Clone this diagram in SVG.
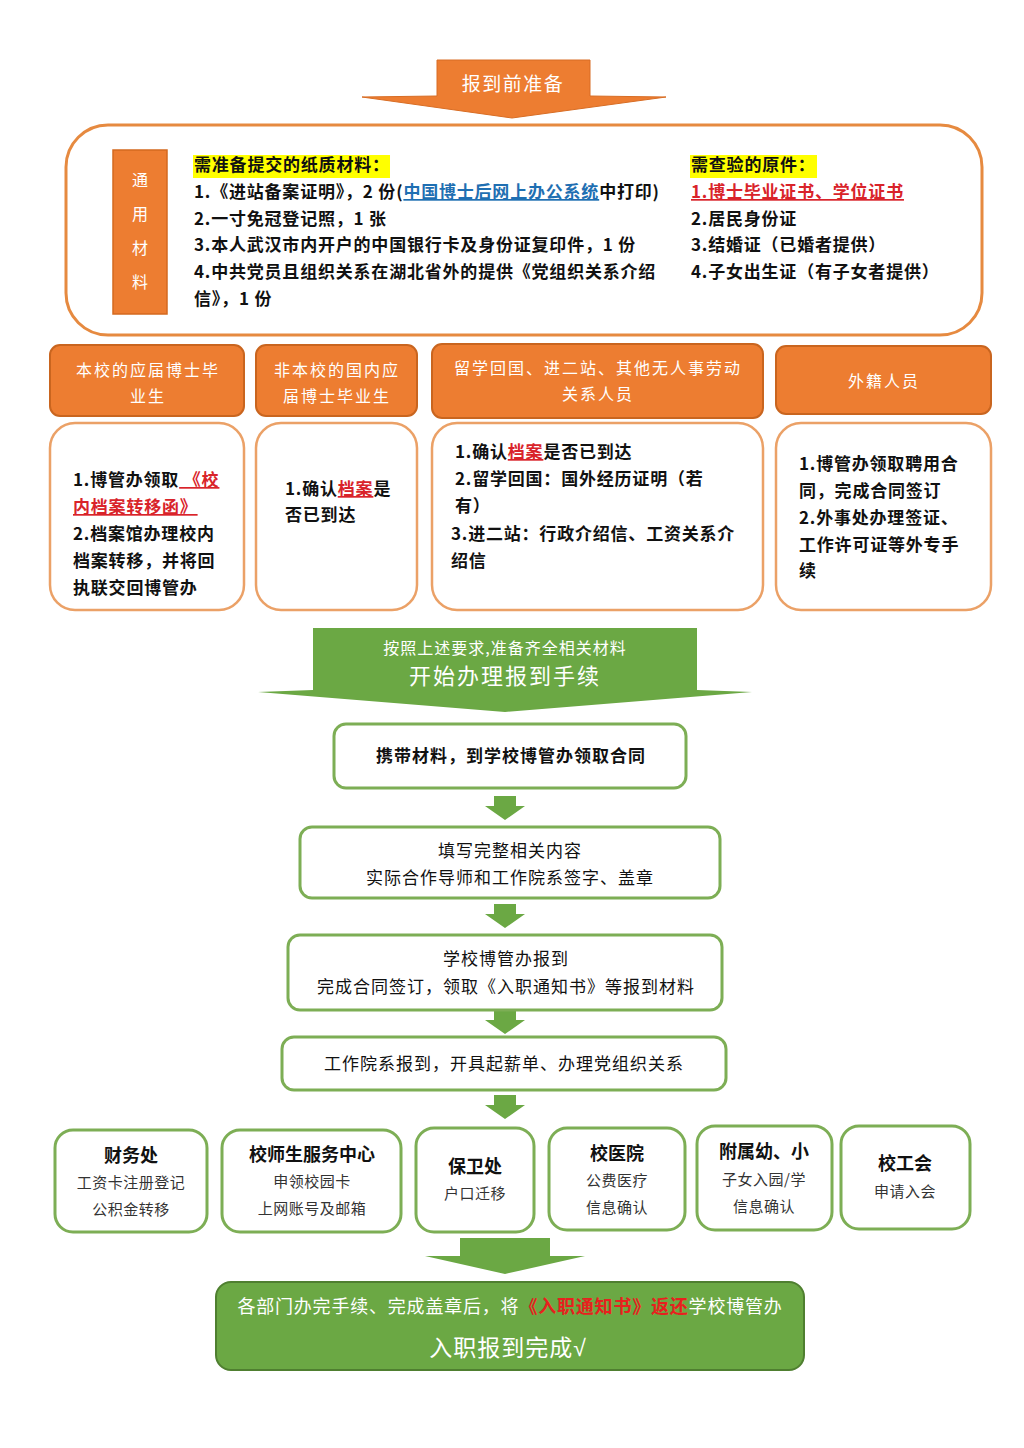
<svg xmlns="http://www.w3.org/2000/svg" width="1024" height="1448" viewBox="0 0 1024 1448">
<style>
text{font-family:"Noto Sans CJK SC","Noto Sans",sans-serif;}
.body{font-size:17px;font-weight:bold;fill:#111;letter-spacing:0.8px;}
.hdr{font-size:16px;fill:#fff;letter-spacing:2px;text-anchor:middle;}
.hdrbox{fill:#ED7D31;stroke:#C9651F;stroke-width:2;}
.detail{fill:#fff;stroke:#EBA167;stroke-width:2.5;}
.step{fill:#fff;stroke:#7DAE55;stroke-width:3;}
.steptxt{font-size:17px;fill:#111;text-anchor:middle;letter-spacing:1px;}
.dept{fill:#fff;stroke:#7DAE55;stroke-width:3;}
.dtitle{font-size:18px;font-weight:bold;fill:#111;text-anchor:middle;}
.dsub{font-size:15px;fill:#333;text-anchor:middle;letter-spacing:0.5px;}
.red{fill:#D9232A;}
.link{fill:#1F6FB2;text-decoration:underline;}
.garrow{fill:#6BA844;}
</style>
<defs>
<path id="sarrow" d="M-11,0 h22 v10 h9 l-20,14 l-20,-14 h9 z"/>
</defs>
<rect width="1024" height="1448" fill="#fff"/>

<g id="connectors">
<polygon id="arrow-top" points="437,60 590,60 590,96 666,97 512,118 362,97 437,96" fill="#ED7D31" stroke="#D86D24" stroke-width="1"/>
<polygon id="arrow-green" points="313,628 697,628 697,690 752,692 505,712 258,692 313,690" class="garrow"/>
<use href="#sarrow" x="505" y="796" class="garrow"/>
<use href="#sarrow" x="505" y="904" class="garrow"/>
<use href="#sarrow" x="505" y="1010" class="garrow"/>
<use href="#sarrow" x="505" y="1095" class="garrow"/>
<polygon id="arrow-bottom" points="460,1238 550,1238 550,1256 585,1256 505,1274 425,1256 460,1256" class="garrow"/>
</g>

<g id="n-top-label">
<text x="513" y="91" style="font-size:19px;fill:#fff;text-anchor:middle;letter-spacing:1.5px;">报到前准备</text>
</g>

<g id="n-general">
<rect x="66" y="125" width="916" height="210" rx="42" fill="#fff" stroke="#E68A40" stroke-width="3"/>
<rect x="113" y="150" width="54" height="164" fill="#ED7D31" stroke="#D4691F" stroke-width="1.5"/>
<g style="font-size:16px;fill:#fff;text-anchor:middle;">
<text x="140" y="186">通</text>
<text x="140" y="220">用</text>
<text x="140" y="254">材</text>
<text x="140" y="288">料</text>
</g>
<rect x="193" y="155" width="197" height="23" fill="#FFFF00"/>
<rect x="690" y="155" width="127" height="23" fill="#FFFF00"/>
<text class="body" x="194" y="171">需准备提交的纸质材料：</text>
<text class="body" x="194" y="198">1.《进站备案证明》，2 份(<tspan class="link">中国博士后网上办公系统</tspan>中打印)</text>
<text class="body" x="194" y="225">2.一寸免冠登记照，1 张</text>
<text class="body" x="194" y="251">3.本人武汉市内开户的中国银行卡及身份证复印件，1 份</text>
<text class="body" x="194" y="278">4.中共党员且组织关系在湖北省外的提供《党组织关系介绍</text>
<text class="body" x="194" y="305">信》，1 份</text>
<text class="body" x="691" y="171">需查验的原件：</text>
<text class="body red" x="691" y="198" style="text-decoration:underline;">1.博士毕业证书、学位证书</text>
<text class="body" x="691" y="225">2.居民身份证</text>
<text class="body" x="691" y="251">3.结婚证（已婚者提供）</text>
<text class="body" x="691" y="278">4.子女出生证（有子女者提供）</text>
</g>

<g id="n-cat1">
<rect class="hdrbox" x="50" y="345" width="194" height="71" rx="10"/>
<text class="hdr" x="148" y="376">本校的应届博士毕</text>
<text class="hdr" x="148" y="402">业生</text>
</g>
<g id="n-cat2">
<rect class="hdrbox" x="256" y="345" width="161" height="71" rx="10"/>
<text class="hdr" x="337" y="376">非本校的国内应</text>
<text class="hdr" x="337" y="402">届博士毕业生</text>
</g>
<g id="n-cat3">
<rect class="hdrbox" x="432" y="344" width="331" height="74" rx="10"/>
<text class="hdr" x="598" y="374">留学回国、进二站、其他无人事劳动</text>
<text class="hdr" x="598" y="400">关系人员</text>
</g>
<g id="n-cat4">
<rect class="hdrbox" x="776" y="346" width="215" height="68" rx="10"/>
<text class="hdr" x="884" y="387">外籍人员</text>
</g>

<g id="n-detail1">
<rect class="detail" x="50" y="423" width="194" height="187" rx="25"/>
<text class="body" x="73" y="486">1.博管办领取<tspan class="red" style="text-decoration:underline;"> 《校</tspan></text>
<text class="body red" x="73" y="513" style="text-decoration:underline;">内档案转移函》</text>
<text class="body" x="73" y="540">2.档案馆办理校内</text>
<text class="body" x="73" y="567">档案转移，并将回</text>
<text class="body" x="73" y="594">执联交回博管办</text>
</g>
<g id="n-detail2">
<rect class="detail" x="256" y="423" width="161" height="187" rx="25"/>
<text class="body" x="285" y="495">1.确认<tspan class="red" style="text-decoration:underline;">档案</tspan>是</text>
<text class="body" x="285" y="521">否已到达</text>
</g>
<g id="n-detail3">
<rect class="detail" x="432" y="423" width="331" height="187" rx="25"/>
<text class="body" x="455" y="458">1.确认<tspan class="red" style="text-decoration:underline;">档案</tspan>是否已到达</text>
<text class="body" x="455" y="485">2.留学回国：国外经历证明（若</text>
<text class="body" x="455" y="512">有）</text>
<text class="body" x="451" y="540">3.进二站：行政介绍信、工资关系介</text>
<text class="body" x="451" y="567">绍信</text>
</g>
<g id="n-detail4">
<rect class="detail" x="776" y="423" width="215" height="187" rx="25"/>
<text class="body" x="799" y="470">1.博管办领取聘用合</text>
<text class="body" x="799" y="497">同，完成合同签订</text>
<text class="body" x="799" y="524">2.外事处办理签证、</text>
<text class="body" x="799" y="551">工作许可证等外专手</text>
<text class="body" x="799" y="577">续</text>
</g>

<g id="n-start">
<text x="505" y="654" style="font-size:16px;fill:#fff;text-anchor:middle;letter-spacing:1px;">按照上述要求,准备齐全相关材料</text>
<text x="505" y="684" style="font-size:22px;fill:#fff;text-anchor:middle;letter-spacing:2px;">开始办理报到手续</text>
</g>

<g id="n-step1">
<rect class="step" x="334" y="724" width="352" height="64" rx="12"/>
<text class="steptxt" x="511" y="762" font-weight="bold">携带材料，到学校博管办领取合同</text>
</g>
<g id="n-step2">
<rect class="step" x="300" y="827" width="420" height="71" rx="12"/>
<text class="steptxt" x="510" y="857">填写完整相关内容</text>
<text class="steptxt" x="510" y="884">实际合作导师和工作院系签字、盖章</text>
</g>
<g id="n-step3">
<rect class="step" x="288" y="935" width="434" height="75" rx="12"/>
<text class="steptxt" x="506" y="965">学校博管办报到</text>
<text class="steptxt" x="506" y="993">完成合同签订，领取《入职通知书》等报到材料</text>
</g>
<g id="n-step4">
<rect class="step" x="282" y="1037" width="444" height="53" rx="12"/>
<text class="steptxt" x="504" y="1070">工作院系报到，开具起薪单、办理党组织关系</text>
</g>

<g id="n-finance">
<rect class="dept" x="55" y="1130" width="152" height="102" rx="18"/>
<text class="dtitle" x="131" y="1162">财务处</text>
<text class="dsub" x="131" y="1188">工资卡注册登记</text>
<text class="dsub" x="131" y="1215">公积金转移</text>
</g>
<g id="n-service">
<rect class="dept" x="222" y="1130" width="179" height="102" rx="18"/>
<text class="dtitle" x="312" y="1161">校师生服务中心</text>
<text class="dsub" x="312" y="1187">申领校园卡</text>
<text class="dsub" x="312" y="1214">上网账号及邮箱</text>
</g>
<g id="n-security">
<rect class="dept" x="416" y="1128" width="118" height="104" rx="18"/>
<text class="dtitle" x="475" y="1173">保卫处</text>
<text class="dsub" x="475" y="1199">户口迁移</text>
</g>
<g id="n-hospital">
<rect class="dept" x="549" y="1128" width="136" height="102" rx="18"/>
<text class="dtitle" x="617" y="1160">校医院</text>
<text class="dsub" x="617" y="1186">公费医疗</text>
<text class="dsub" x="617" y="1213">信息确认</text>
</g>
<g id="n-school">
<rect class="dept" x="697" y="1126" width="135" height="104" rx="18"/>
<text class="dtitle" x="764" y="1158">附属幼、小</text>
<text class="dsub" x="764" y="1185">子女入园/学</text>
<text class="dsub" x="764" y="1212">信息确认</text>
</g>
<g id="n-union">
<rect class="dept" x="841" y="1126" width="129" height="103" rx="18"/>
<text class="dtitle" x="905" y="1170">校工会</text>
<text class="dsub" x="905" y="1197">申请入会</text>
</g>

<g id="n-final">
<rect x="216" y="1282" width="588" height="88" rx="15" fill="#6BA844" stroke="#4F7F30" stroke-width="2"/>
<text x="510" y="1313" style="font-size:18px;fill:#fff;text-anchor:middle;letter-spacing:0.8px;">各部门办完手续、完成盖章后，将<tspan fill="#E8201E" font-weight="bold">《入职通知书》返还</tspan>学校博管办</text>
<text x="508" y="1356" style="font-size:23px;fill:#fff;text-anchor:middle;letter-spacing:1px;">入职报到完成<tspan style="font-family:'Liberation Sans','DejaVu Sans',sans-serif;">√</tspan></text>
</g>
</svg>
